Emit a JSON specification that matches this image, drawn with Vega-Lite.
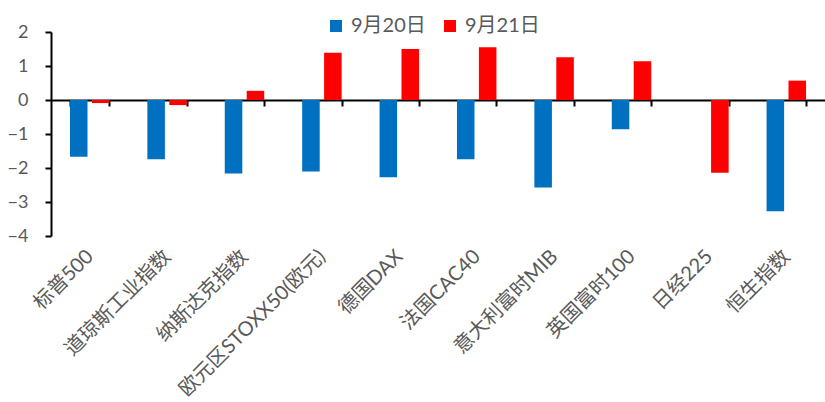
{
  "$schema": "https://vega.github.io/schema/vega-lite/v6.json",
  "autosize": "none",
  "width": 774,
  "height": 204,
  "padding": {"left": 51, "top": 32, "right": 0, "bottom": 166},
  "background": "white",
  "config": {
    "view": {"stroke": null},
    "font": "Lato, 'Noto Sans CJK SC', sans-serif"
  },
  "data": {
    "values": [
      {"name": "标普500", "date": "9月20日", "value": -1.67},
      {"name": "标普500", "date": "9月21日", "value": -0.09},
      {"name": "道琼斯工业指数", "date": "9月20日", "value": -1.74},
      {"name": "道琼斯工业指数", "date": "9月21日", "value": -0.15},
      {"name": "纳斯达克指数", "date": "9月20日", "value": -2.16},
      {"name": "纳斯达克指数", "date": "9月21日", "value": 0.27},
      {"name": "欧元区STOXX50(欧元)", "date": "9月20日", "value": -2.10},
      {"name": "欧元区STOXX50(欧元)", "date": "9月21日", "value": 1.39},
      {"name": "德国DAX", "date": "9月20日", "value": -2.27},
      {"name": "德国DAX", "date": "9月21日", "value": 1.50},
      {"name": "法国CAC40", "date": "9月20日", "value": -1.74},
      {"name": "法国CAC40", "date": "9月21日", "value": 1.55},
      {"name": "意大利富时MIB", "date": "9月20日", "value": -2.57},
      {"name": "意大利富时MIB", "date": "9月21日", "value": 1.26},
      {"name": "英国富时100", "date": "9月20日", "value": -0.86},
      {"name": "英国富时100", "date": "9月21日", "value": 1.14},
      {"name": "日经225", "date": "9月20日", "value": 0},
      {"name": "日经225", "date": "9月21日", "value": -2.14},
      {"name": "恒生指数", "date": "9月20日", "value": -3.27},
      {"name": "恒生指数", "date": "9月21日", "value": 0.57}
    ]
  },
  "mark": {"type": "bar"},
  "encoding": {
    "x": {
      "field": "name",
      "type": "nominal",
      "sort": null,
      "title": null,
      "scale": {"paddingInner": 0.49, "paddingOuter": 0.245},
      "axis": {
        "orient": "bottom",
        "offset": -136,
        "domainColor": "black",
        "domainWidth": 2,
        "ticks": true,
        "tickBand": "extent",
        "tickColor": "black",
        "tickWidth": 2,
        "tickSize": 6,
        "labelAngle": -45,
        "labelAlign": "right",
        "labelBaseline": "middle",
        "labelPadding": 147,
        "labelFontSize": 20,
        "labelColor": "#595959",
        "labelFont": "Lato, 'Noto Sans CJK SC', sans-serif",
        "labelLimit": 400,
        "labelOverlap": false
      }
    },
    "xOffset": {
      "field": "date",
      "type": "nominal",
      "scale": {"paddingInner": 0.2}
    },
    "y": {
      "field": "value",
      "type": "quantitative",
      "title": null,
      "scale": {"domain": [-4, 2], "nice": false, "zero": false},
      "axis": {
        "values": [-4, -3, -2, -1, 0, 1, 2],
        "grid": false,
        "domainColor": "black",
        "domainWidth": 2,
        "tickColor": "black",
        "tickWidth": 2,
        "tickSize": 6,
        "labelPadding": 17,
        "labelFontSize": 18,
        "labelColor": "#595959",
        "labelFont": "Lato, sans-serif"
      }
    },
    "color": {
      "field": "date",
      "type": "nominal",
      "scale": {"domain": ["9月20日", "9月21日"], "range": ["#0070C0", "#FF0000"]},
      "legend": {
        "title": null,
        "orient": "none",
        "direction": "horizontal",
        "legendX": 275,
        "legendY": -16,
        "padding": 0,
        "symbolType": "square",
        "symbolSize": 144,
        "symbolStrokeWidth": 0,
        "symbolOpacity": 1,
        "labelFontSize": 20,
        "labelColor": "#595959",
        "labelFont": "Lato, 'Noto Sans CJK SC', sans-serif",
        "labelOffset": 5,
        "columnPadding": 14
      }
    }
  }
}
